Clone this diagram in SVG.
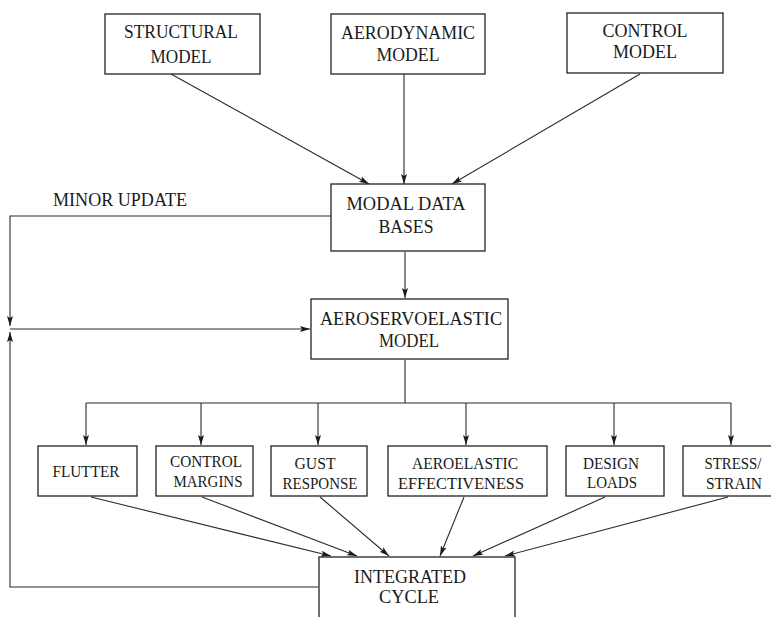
<svg xmlns="http://www.w3.org/2000/svg" width="771" height="617" viewBox="0 0 771 617">
  <style>
    .box { fill: #fff; stroke: #222; stroke-width: 1.3; }
    .lbl { font-family: "Liberation Serif", "Times New Roman", serif; font-size: 18px; fill: #1a1a1a; text-anchor: middle; }
    .sm { font-size: 16px; }
    .wire { fill: none; stroke: #2a2a2a; stroke-width: 1.1; }
    .arr { marker-end: url(#head); }
  </style>
  <defs>
    <marker id="head" markerUnits="userSpaceOnUse" markerWidth="12" markerHeight="8" refX="10" refY="4" orient="auto">
      <path d="M0,1 L10,4 L0,7 L2,4 Z" fill="#1a1a1a"/>
    </marker>
  </defs>

  <!-- connectors -->
  <g id="connectors">
    <line class="wire arr" x1="171" y1="74" x2="369" y2="184"/>
    <line class="wire arr" x1="404" y1="74" x2="404" y2="184"/>
    <line class="wire arr" x1="640" y1="74" x2="452" y2="184"/>
    <line class="wire arr" x1="405" y1="252" x2="405" y2="298"/>
    <!-- minor update loop -->
    <polyline class="wire arr" points="331,216 10,216 10,326"/>
    <line class="wire arr" x1="10" y1="329" x2="310" y2="329"/>
    <polyline class="wire arr" points="318,587 10,587 10,332"/>
    <!-- distribution bus -->
    <line class="wire" x1="405" y1="360" x2="405" y2="403"/>
    <line class="wire" x1="86" y1="403" x2="731" y2="403"/>
    <line class="wire arr" x1="86" y1="403" x2="86" y2="445"/>
    <line class="wire arr" x1="201" y1="403" x2="201" y2="445"/>
    <line class="wire arr" x1="318" y1="403" x2="318" y2="445"/>
    <line class="wire arr" x1="466" y1="403" x2="466" y2="445"/>
    <line class="wire arr" x1="614" y1="403" x2="614" y2="445"/>
    <line class="wire arr" x1="731" y1="403" x2="731" y2="445"/>
    <!-- results into integrated cycle -->
    <line class="wire arr" x1="91" y1="497" x2="331" y2="556"/>
    <line class="wire arr" x1="202" y1="497" x2="357" y2="556"/>
    <line class="wire arr" x1="320" y1="497" x2="389" y2="556"/>
    <line class="wire arr" x1="464" y1="497" x2="440" y2="556"/>
    <line class="wire arr" x1="605" y1="497" x2="473" y2="556"/>
    <line class="wire arr" x1="728" y1="497" x2="505" y2="556"/>
  </g>

  <g id="structural">
    <rect class="box" x="105" y="14" width="155" height="60"/>
    <text class="lbl" x="181" y="38" textLength="114" lengthAdjust="spacingAndGlyphs">STRUCTURAL</text>
    <text class="lbl" x="181" y="63" textLength="61" lengthAdjust="spacingAndGlyphs">MODEL</text>
  </g>
  <g id="aerodynamic">
    <rect class="box" x="331" y="14" width="154" height="60"/>
    <text class="lbl" x="408" y="39" textLength="134" lengthAdjust="spacingAndGlyphs">AERODYNAMIC</text>
    <text class="lbl" x="408" y="61" textLength="63" lengthAdjust="spacingAndGlyphs">MODEL</text>
  </g>
  <g id="control">
    <rect class="box" x="567" y="13" width="156" height="60"/>
    <text class="lbl" x="645" y="37" textLength="85" lengthAdjust="spacingAndGlyphs">CONTROL</text>
    <text class="lbl" x="645" y="58" textLength="64" lengthAdjust="spacingAndGlyphs">MODEL</text>
  </g>
  <g id="modal-data">
    <rect class="box" x="331" y="184" width="154" height="67"/>
    <text class="lbl" x="406" y="210" textLength="119" lengthAdjust="spacingAndGlyphs">MODAL DATA</text>
    <text class="lbl" x="406" y="233" textLength="55" lengthAdjust="spacingAndGlyphs">BASES</text>
  </g>
  <g id="minor-update">
    <text class="lbl" x="120" y="206" textLength="134" lengthAdjust="spacingAndGlyphs">MINOR UPDATE</text>
  </g>
  <g id="aeroservoelastic">
    <rect class="box" x="311" y="299" width="197" height="60"/>
    <text class="lbl" x="411" y="325" textLength="182" lengthAdjust="spacingAndGlyphs">AEROSERVOELASTIC</text>
    <text class="lbl" x="409" y="347" textLength="60" lengthAdjust="spacingAndGlyphs">MODEL</text>
  </g>
  <g id="flutter">
    <rect class="box" x="38" y="446" width="99" height="50"/>
    <text class="lbl sm" x="86" y="477" textLength="67" lengthAdjust="spacingAndGlyphs">FLUTTER</text>
  </g>
  <g id="control-margins">
    <rect class="box" x="156" y="446" width="97" height="50"/>
    <text class="lbl sm" x="206" y="467" textLength="72" lengthAdjust="spacingAndGlyphs">CONTROL</text>
    <text class="lbl sm" x="208" y="487" textLength="69" lengthAdjust="spacingAndGlyphs">MARGINS</text>
  </g>
  <g id="gust-response">
    <rect class="box" x="271" y="446" width="96" height="50"/>
    <text class="lbl sm" x="315" y="469" textLength="41" lengthAdjust="spacingAndGlyphs">GUST</text>
    <text class="lbl sm" x="320" y="489" textLength="75" lengthAdjust="spacingAndGlyphs">RESPONSE</text>
  </g>
  <g id="aeroelastic-effectiveness">
    <rect class="box" x="388" y="446" width="159" height="50"/>
    <text class="lbl sm" x="465" y="469" textLength="106" lengthAdjust="spacingAndGlyphs">AEROELASTIC</text>
    <text class="lbl sm" x="461" y="489" textLength="126" lengthAdjust="spacingAndGlyphs">EFFECTIVENESS</text>
  </g>
  <g id="design-loads">
    <rect class="box" x="566" y="446" width="98" height="50"/>
    <text class="lbl sm" x="611" y="469" textLength="56" lengthAdjust="spacingAndGlyphs">DESIGN</text>
    <text class="lbl sm" x="612" y="488" textLength="50" lengthAdjust="spacingAndGlyphs">LOADS</text>
  </g>
  <g id="stress-strain">
    <rect class="box" x="683" y="446" width="100" height="50"/>
    <text class="lbl sm" x="733" y="469" textLength="57" lengthAdjust="spacingAndGlyphs">STRESS/</text>
    <text class="lbl sm" x="734" y="489" textLength="56" lengthAdjust="spacingAndGlyphs">STRAIN</text>
  </g>
  <g id="integrated-cycle">
    <rect class="box" x="319" y="557" width="196" height="70"/>
    <text class="lbl" x="410" y="583" textLength="112" lengthAdjust="spacingAndGlyphs">INTEGRATED</text>
    <text class="lbl" x="409" y="603" textLength="60" lengthAdjust="spacingAndGlyphs">CYCLE</text>
  </g>
</svg>
